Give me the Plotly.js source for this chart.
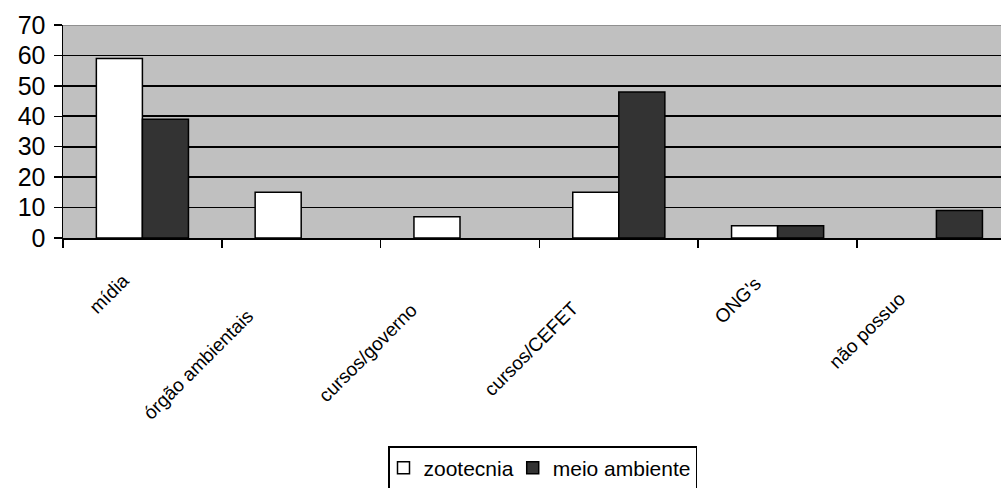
<!DOCTYPE html>
<html>
<head>
<meta charset="utf-8">
<script src="https://cdn.plot.ly/plotly-3.0.1.min.js"></script>
<style>
  html, body { margin: 0; padding: 0; background: #ffffff; overflow: hidden; }
  #chart { width: 1001px; height: 500px; }
</style>
</head>
<body>
<div id="chart"></div>
<script>
// Fontes de informação ambiental por curso (%)
const categories = ['mídia', 'órgão ambientais', 'cursos/governo', 'cursos/CEFET', "ONG's", 'não possuo'];
const zootecnia = [59, 15, 7, 15, 4, 0];
const meioAmbiente = [39, 0, 0, 48, 4, 9];
const seriesNames = ['zootecnia', 'meio ambiente'];
const yTicks = [0, 10, 20, 30, 40, 50, 60, 70];

const FONT = '"Liberation Sans", Arial, sans-serif';
const W = 1001, H = 500;                // the legend box runs past the bottom edge
const M = { l: 63, r: 0, t: 25, b: 262 };
const plotW = W - M.l - M.r;
const plotH = H - M.t - M.b;
const catWidth = 158.8;                 // px per category slot
const xMax = -0.5 + plotW / catWidth;   // last slot runs past the right edge

// empty categories get no outline either
const outline = function (vals) { return vals.map(function (v) { return v > 0 ? 1.5 : 0; }); };

const traces = [
  {
    type: 'bar', name: seriesNames[0], x: categories, y: zootecnia,
    marker: { color: '#ffffff', line: { color: '#000000', width: outline(zootecnia) } },
    hoverinfo: 'x+y+name'
  },
  {
    type: 'bar', name: seriesNames[1], x: categories, y: meioAmbiente,
    marker: { color: '#333333', line: { color: '#000000', width: outline(meioAmbiente) } },
    hoverinfo: 'x+y+name'
  }
];

// Rotated category labels: centred one label-length down the diagonal
const labelSize = 19;
const ctx = document.createElement('canvas').getContext('2d');
ctx.font = labelSize + 'px ' + FONT;
const labelAnnotations = categories.map(function (c) {
  const L = ctx.measureText(c).width;
  const d = L / Math.SQRT2;
  return {
    x: c, xref: 'x', y: 0, yref: 'paper',
    text: c, showarrow: false, textangle: -45,
    xanchor: 'center', yanchor: 'middle',
    xshift: -d, yshift: -23 - d,
    font: { family: FONT, size: labelSize, color: '#000000' }
  };
});

const layout = {
  width: W, height: H,
  margin: M,
  paper_bgcolor: '#ffffff',
  plot_bgcolor: '#c0c0c0',
  barmode: 'group',
  bargap: 0.42,
  bargroupgap: 0,
  showlegend: true,
  font: { family: FONT, color: '#000000' },
  xaxis: {
    type: 'category',
    range: [-0.5, xMax],
    tickson: 'boundaries',
    ticks: 'outside', ticklen: 8, tickwidth: 1.5, tickcolor: '#000000',
    showticklabels: false,
    showgrid: false, zeroline: false,
    showline: true, linecolor: '#000000', linewidth: 1.5,
    fixedrange: true
  },
  yaxis: {
    range: [0, 70],
    tickmode: 'array', tickvals: yTicks, ticktext: yTicks.map(String),
    ticks: 'outside', ticklen: 8, tickwidth: 1.5, tickcolor: '#000000',
    ticklabelstandoff: 3,
    tickfont: { family: FONT, size: 25, color: '#000000' },
    showgrid: true, gridcolor: '#000000', gridwidth: 1.6,
    zeroline: false,
    showline: true, linecolor: '#000000', linewidth: 1.5,
    fixedrange: true
  },
  legend: {
    orientation: 'h',
    x: (388 - M.l) / plotW, xanchor: 'left',
    y: -(446 - M.t - plotH) / plotH, yanchor: 'top',
    bgcolor: '#ffffff', bordercolor: '#000000', borderwidth: 1.5,
    font: { family: FONT, size: 21, color: '#000000' },
    indentation: -6,
    traceorder: 'normal'
  },
  shapes: [
    {
      type: 'line', xref: 'paper', yref: 'y', x0: 0, x1: 1, y0: 70, y1: 70,
      line: { color: '#808080', width: 1.5 }, layer: 'above'
    }
  ],
  annotations: labelAnnotations
};

Plotly.newPlot('chart', traces, layout, { displayModeBar: false, staticPlot: true });
</script>
</body>
</html>
